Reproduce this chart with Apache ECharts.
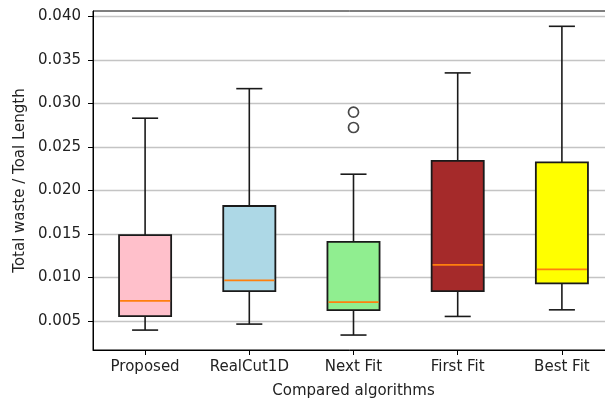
<!DOCTYPE html>
<html>
<head>
<meta charset="utf-8">
<script src="https://cdn.jsdelivr.net/npm/echarts@6/dist/echarts.min.js"></script>
<style>html,body{margin:0;padding:0;background:#fff;}#c{width:605px;height:399px;}</style>
</head>
<body>
<div id="c"></div>
<script>
var categories = ['Proposed', 'RealCut1D', 'Next Fit', 'First Fit', 'Best Fit'];
// [low whisker, Q1, median, Q3, high whisker]
var boxStats = [
  [0.00393, 0.00554, 0.00730, 0.01485, 0.02830],
  [0.00462, 0.00841, 0.00964, 0.01820, 0.03170],
  [0.00336, 0.00623, 0.00715, 0.01408, 0.02186],
  [0.00550, 0.00841, 0.01144, 0.02339, 0.03351],
  [0.00626, 0.00930, 0.01091, 0.02321, 0.03887]
];
var boxColors = ['#ffc0cb', '#add8e6', '#90ee90', '#a52a2a', '#ffff00'];
var outliers = [['Next Fit', 0.02899], ['Next Fit', 0.02723]];
var yTicks = [0.005, 0.010, 0.015, 0.020, 0.025, 0.030, 0.035, 0.040];

var font = 'DejaVu Sans';
var boxData = boxStats.map(function (s, i) { return [i].concat(s); });

var chart = echarts.init(document.getElementById('c'), null, {renderer: 'canvas'});
chart.setOption({
  animation: false,
  grid: {left: 93, top: 11, width: 521, height: 339, outerBoundsMode: 'none', containLabel: false,
    show: true, borderColor: '#000', borderWidth: 1, backgroundColor: 'transparent'},
  xAxis: {
    type: 'category',
    data: categories,
    boundaryGap: true,
    name: 'Compared algorithms',
    nameLocation: 'middle',
    nameGap: 34,
    nameTextStyle: {fontFamily: font, fontSize: 15, color: '#222'},
    axisLine: {show: true, lineStyle: {color: '#000', width: 1}},
    axisTick: {show: true, alignWithLabel: true, interval: 0, length: 5, lineStyle: {color: '#000'}},
    axisLabel: {fontFamily: font, fontSize: 15, color: '#222', margin: 10, interval: 0, hideOverlap: false},
    splitLine: {show: false}
  },
  yAxis: {
    type: 'value',
    min: 0.00164,
    max: 0.04063,
    name: 'Total waste / Toal Length',
    nameLocation: 'middle',
    nameGap: 64,
    nameRotate: 90,
    nameTextStyle: {fontFamily: font, fontSize: 15, color: '#222'},
    axisLine: {show: true, lineStyle: {color: '#000', width: 1}},
    axisTick: {show: true, length: 5, lineStyle: {color: '#000'}, customValues: yTicks},
    axisLabel: {fontFamily: font, fontSize: 15, color: '#222', margin: 12, customValues: yTicks,
      formatter: function (v) { return v.toFixed(3); }},
    splitLine: {show: true, lineStyle: {color: '#c4c4c4', width: 1.4}}
  },
  series: [
    {
      type: 'custom',
      data: boxData,
      encode: {x: 0, y: [1, 2, 3, 4, 5]},
      z: 3,
      renderItem: function (params, api) {
        var idx = api.value(0);
        var band = api.size([1, 0])[0];
        var pLow = api.coord([idx, api.value(1)]);
        var pQ1 = api.coord([idx, api.value(2)]);
        var pMed = api.coord([idx, api.value(3)]);
        var pQ3 = api.coord([idx, api.value(4)]);
        var pHigh = api.coord([idx, api.value(5)]);
        var cx = pLow[0];
        var bw = band * 0.5, cw = band * 0.25;
        var lineStyle = {stroke: '#1a1a1a', lineWidth: 1.6};
        return {
          type: 'group',
          children: [
            {type: 'line', shape: {x1: cx, y1: pQ3[1], x2: cx, y2: pHigh[1]}, style: lineStyle},
            {type: 'line', shape: {x1: cx, y1: pQ1[1], x2: cx, y2: pLow[1]}, style: lineStyle},
            {type: 'line', shape: {x1: cx - cw / 2, y1: pHigh[1], x2: cx + cw / 2, y2: pHigh[1]}, style: lineStyle},
            {type: 'line', shape: {x1: cx - cw / 2, y1: pLow[1], x2: cx + cw / 2, y2: pLow[1]}, style: lineStyle},
            {type: 'rect', shape: {x: cx - bw / 2, y: pQ3[1], width: bw, height: pQ1[1] - pQ3[1]},
              style: {fill: boxColors[idx], stroke: '#1a1a1a', lineWidth: 1.8}},
            {type: 'line', shape: {x1: cx - bw / 2 + 1, y1: pMed[1], x2: cx + bw / 2 - 1, y2: pMed[1]},
              style: {stroke: '#ff7f0e', lineWidth: 1.8}}
          ]
        };
      }
    },
    {
      type: 'scatter',
      data: outliers,
      symbol: 'circle',
      symbolSize: 10,
      z: 4,
      itemStyle: {color: '#fff', borderColor: '#1a1a1a', borderWidth: 1.7}
    }
  ]
});
</script>
</body>
</html>
